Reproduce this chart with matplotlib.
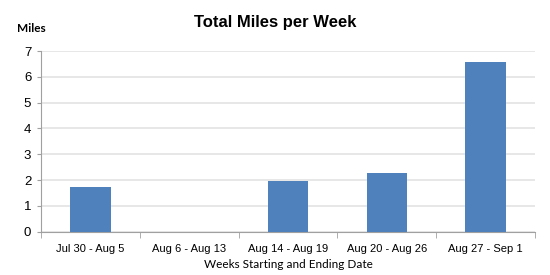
import numpy as np
import matplotlib
matplotlib.use("Agg")
import matplotlib.pyplot as plt

weeks = ["Jul 30 - Aug 5", "Aug 6 - Aug 13", "Aug 14 - Aug 19", "Aug 20 - Aug 26", "Aug 27 - Sep 1"]
miles = [1.72, 0.0, 1.96, 2.26, 6.59]
yticks = [0, 1, 2, 3, 4, 5, 6, 7]

fig = plt.figure(figsize=(5.5, 2.75), dpi=100)
ax = fig.add_axes([41/550, 1 - 231.7/275, (535-41)/550, (231.7-51)/275])

x = np.arange(len(weeks))
ax.bar(x, miles, width=0.41, color="#4f81bd", zorder=3)
ax.set_xlim(-0.5, len(weeks) - 0.5)
ax.set_ylim(0, 7)
ax.set_yticks(yticks)
ax.set_yticklabels([str(t) for t in yticks], fontsize=9.5, family="Liberation Sans")
ax.set_xticks(x)
ax.set_xticklabels(weeks, fontsize=8, family="Liberation Sans")
ax.set_xticks(np.arange(len(weeks) + 1) - 0.5, minor=True)
ax.tick_params(axis="x", which="major", length=0, pad=9)
ax.tick_params(axis="x", which="minor", length=4, color="#a0a0a0", direction="out")
ax.tick_params(axis="y", length=3, color="#a0a0a0", pad=4)

ax.grid(axis="y", color="#e3e3e3", linewidth=1.2, zorder=0)
for s in ["top", "right"]:
    ax.spines[s].set_visible(False)
ax.spines["left"].set_color("#a0a0a0")
ax.spines["bottom"].set_color("#a0a0a0")

fig.text(0.5, 1 - 22/275, "Total Miles per Week", ha="center", va="center",
         fontsize=12, fontweight="bold", family="Liberation Sans")
fig.text(31/550, 1 - 28/275, "Miles", ha="center", va="center",
         fontsize=8.5, fontweight="bold", family="Lato")
fig.text(0.525, 1 - 265/275, "Weeks Starting and Ending Date", ha="center", va="center",
         fontsize=8.5, family="Lato")

fig.savefig("out.png", dpi=100)
